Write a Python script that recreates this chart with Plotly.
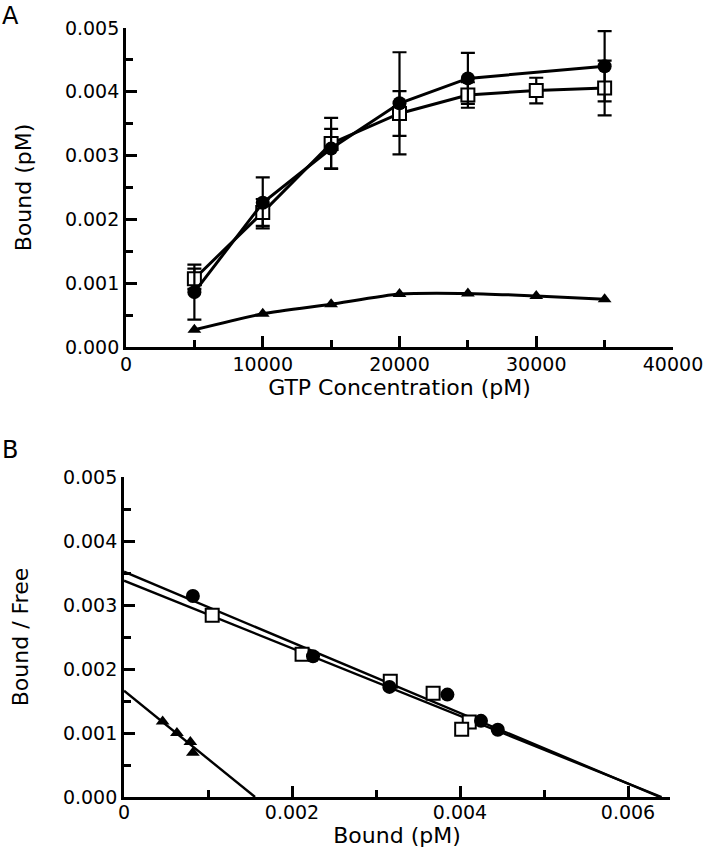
import plotly.graph_objects as go

# ---------------- Panel A data ----------------
gtp_conc = [5000, 10000, 15000, 20000, 25000, 30000, 35000]

circle_x = [5000, 10000, 15000, 20000, 25000, 35000]
circle_y = [0.00086, 0.00226, 0.00311, 0.00382, 0.00421, 0.00440]
circle_err = [0.00043, 0.00040, 0.00031, 0.00080, 0.00040, 0.00055]

square_x = [5000, 10000, 15000, 20000, 25000, 30000, 35000]
square_y = [0.00107, 0.00211, 0.00319, 0.00366, 0.00395, 0.00402, 0.00406]
square_err = [0.00016, 0.00021, 0.00040, 0.00035, 0.00020, 0.00020, 0.00043]

triangle_y = [0.00027, 0.00052, 0.00067, 0.00083, 0.00084, 0.00080, 0.00075]

# ---------------- Panel B data (Scatchard) ----------------
scat_circle_x = [0.00082, 0.00225, 0.00316, 0.00385, 0.00425, 0.00445]
scat_circle_y = [0.00314, 0.00220, 0.00172, 0.00160, 0.00119, 0.00105]

scat_square_x = [0.00105, 0.00212, 0.00317, 0.00368, 0.00411, 0.00402]
scat_square_y = [0.00284, 0.00223, 0.00181, 0.00162, 0.00117, 0.00106]

scat_tri_x = [0.00046, 0.00063, 0.00079, 0.00082]
scat_tri_y = [0.00118, 0.00100, 0.00086, 0.00069]

# linear fits: (y-intercept, x-intercept)
fit_circle = (0.00352, 0.00638)
fit_square = (0.00338, 0.00640)
fit_tri = (0.00166, 0.00156)

FONT = "DejaVu Sans, Liberation Sans, Arial, sans-serif"
BLACK = "black"
LW = 3

W, H = 703, 855


def px(sx):
    return sx / W


def py(sy):
    return (H - sy) / H


fig = go.Figure()

# Panel A traces
fig.add_trace(go.Scatter(
    x=gtp_conc, y=triangle_y, mode="lines+markers",
    line=dict(color=BLACK, width=LW, shape="spline", smoothing=0.6),
    marker=dict(symbol="triangle-up", size=12, color=BLACK),
    xaxis="x", yaxis="y", showlegend=False))
fig.add_trace(go.Scatter(
    x=square_x, y=square_y, mode="lines+markers",
    line=dict(color=BLACK, width=LW),
    marker=dict(symbol="square", size=13, color="white", line=dict(color=BLACK, width=2)),
    error_y=dict(type="data", array=square_err, visible=True, color=BLACK, thickness=2.2, width=7),
    xaxis="x", yaxis="y", showlegend=False))
fig.add_trace(go.Scatter(
    x=circle_x, y=circle_y, mode="lines+markers",
    line=dict(color=BLACK, width=LW),
    marker=dict(symbol="circle", size=14, color=BLACK),
    error_y=dict(type="data", array=circle_err, visible=True, color=BLACK, thickness=2.2, width=7),
    xaxis="x", yaxis="y", showlegend=False))

# Panel B fit lines
for yi, xi in (fit_circle, fit_square, fit_tri):
    fig.add_trace(go.Scatter(
        x=[0, xi], y=[yi, 0], mode="lines",
        line=dict(color=BLACK, width=2.4),
        xaxis="x2", yaxis="y2", showlegend=False, cliponaxis=False))

fig.add_trace(go.Scatter(
    x=scat_square_x, y=scat_square_y, mode="markers",
    marker=dict(symbol="square", size=13, color="white", line=dict(color=BLACK, width=2)),
    xaxis="x2", yaxis="y2", showlegend=False))
fig.add_trace(go.Scatter(
    x=scat_circle_x, y=scat_circle_y, mode="markers",
    marker=dict(symbol="circle", size=14, color=BLACK),
    xaxis="x2", yaxis="y2", showlegend=False))
fig.add_trace(go.Scatter(
    x=scat_tri_x, y=scat_tri_y, mode="markers",
    marker=dict(symbol="triangle-up", size=12, color=BLACK),
    xaxis="x2", yaxis="y2", showlegend=False))

axis_common = dict(
    showgrid=False, zeroline=False, showline=True, linecolor=BLACK, linewidth=2.8,
    ticks="inside", ticklen=11, tickwidth=2.8, tickcolor=BLACK,
    mirror=False, automargin=False, ticklabeloverflow="allow",
)
YTICK_FONT = dict(family=FONT, size=19, color=BLACK)
XTICK_FONT = dict(family=FONT, size=19, color=BLACK)
minor_common = dict(ticks="inside", ticklen=7, tickwidth=2.8, tickcolor=BLACK)
TITLE_FONT = dict(family=FONT, size=22, color=BLACK)

fig.update_layout(
    width=W, height=H,
    margin=dict(l=0, r=0, t=0, b=0, autoexpand=False),
    paper_bgcolor="white", plot_bgcolor="white",
    font=dict(family=FONT, color=BLACK),
    xaxis=dict(**axis_common, domain=[px(126), px(673)], range=[0, 40000],
               tickvals=[0, 10000, 20000, 30000, 40000],
               ticktext=["0", "10000", "20000", "30000", "40000"],
               tickfont=XTICK_FONT,
               minor=dict(**minor_common, dtick=5000),
               ticklabelstandoff=-2,
               title=dict(text="GTP Concentration (pM)", font=TITLE_FONT, standoff=0),
               anchor="y"),
    yaxis=dict(**axis_common, domain=[py(347), py(28)], range=[0, 0.005],
               tickvals=[0, 0.001, 0.002, 0.003, 0.004, 0.005],
               ticktext=["0.000", "0.001", "0.002", "0.003", "0.004", "0.005"],
               tickfont=YTICK_FONT,
               minor=dict(**minor_common, dtick=0.0005),
               title=dict(text="Bound (pM)", font=TITLE_FONT, standoff=28),
               anchor="x"),
    xaxis2=dict(**axis_common, domain=[px(124), px(670)], range=[0, 0.0065],
                tickvals=[0, 0.002, 0.004, 0.006],
                ticktext=["0", "0.002", "0.004", "0.006"],
                tickfont=XTICK_FONT,
                minor=dict(**minor_common, tickvals=[0.001, 0.003, 0.005]),
                ticklabelstandoff=-4,
                title=dict(text="Bound (pM)", font=TITLE_FONT, standoff=0),
                anchor="y2"),
    yaxis2=dict(**axis_common, domain=[py(797), py(477)], range=[0, 0.005],
                tickvals=[0, 0.001, 0.002, 0.003, 0.004, 0.005],
                ticktext=["0.000", "0.001", "0.002", "0.003", "0.004", "0.005"],
                tickfont=YTICK_FONT,
                minor=dict(**minor_common, dtick=0.0005),
                title=dict(text="Bound / Free", font=TITLE_FONT, standoff=29),
                anchor="x2"),
    annotations=[
        dict(text="A", x=0, y=1, xref="paper", yref="paper", xanchor="left", yanchor="top",
             showarrow=False, font=dict(family=FONT, size=24, color=BLACK)),
        dict(text="B", x=0, y=py(434), xref="paper", yref="paper", xanchor="left", yanchor="top",
             showarrow=False, font=dict(family=FONT, size=24, color=BLACK)),
    ],
)

fig.write_html("out.html", config={"displayModeBar": False},
               post_script="document.body.style.margin='0px';")
